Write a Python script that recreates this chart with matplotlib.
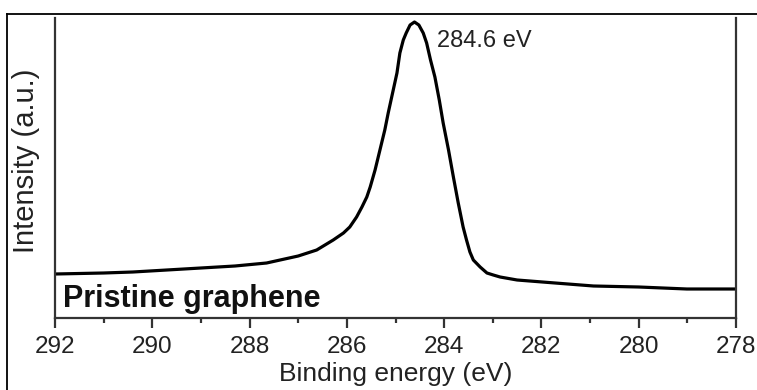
import matplotlib
matplotlib.use("Agg")
from matplotlib import pyplot as plt
from matplotlib.lines import Line2D
from matplotlib.ticker import MultipleLocator

# XPS C1s spectrum (intensity in arbitrary units)
energy = [292.0, 291.0, 290.4, 289.0, 288.3, 287.65, 287.0, 286.62, 286.28,
          286.07, 285.94, 285.8, 285.69, 285.59, 285.52, 285.42, 285.32,
          285.22, 285.15, 285.06, 284.97, 284.91, 284.84, 284.78, 284.7,
          284.61, 284.52, 284.43, 284.36, 284.28, 284.19, 284.1, 284.02,
          283.91, 283.81, 283.71, 283.61, 283.54, 283.47, 283.4, 283.26,
          283.12, 282.99, 282.85, 282.5, 281.98, 280.93, 280.0, 279.01, 278.0]
intensity = [44, 45, 46, 50, 52, 55, 62, 68, 78,
             85, 91, 101, 111, 121, 131, 148, 168,
             188, 205, 225, 245, 265, 278, 285, 293,
             296, 293, 285, 275, 258, 241, 218, 195,
             168, 141, 115, 91, 78, 66, 58, 51,
             45, 43, 41, 38, 36, 32, 31, 29, 29]
xticks = [292, 290, 288, 286, 284, 282, 280, 278]
peak_label = "284.6 eV"
sample_label = "Pristine graphene"

plt.rcParams['font.family'] = ['Liberation Sans', 'DejaVu Sans']
txt = '#222222'

fig = plt.figure(figsize=(7.57, 3.90), dpi=100)
ax = fig.add_axes([55/757, 1-318/390, (736-55)/757, 300/390])

ax.plot(energy, intensity, color='black', lw=2.3, solid_joinstyle='round')

ax.set_xlim(292, 278)
ax.set_ylim(0, 300)
ax.set_xticks(xticks)
ax.xaxis.set_minor_locator(MultipleLocator(1))
ax.set_yticks([])

for side in ['left', 'right', 'bottom']:
    ax.spines[side].set_linewidth(1.6)
    ax.spines[side].set_color('#333333')
ax.spines['top'].set_visible(False)

ax.tick_params(axis='x', which='major', direction='out', length=7, width=1.6,
               color='#333333', labelsize=17.5, labelcolor=txt, pad=6)
ax.tick_params(axis='x', which='minor', direction='out', length=3.5, width=1.6,
               color='#333333')

ax.set_xlabel("Binding energy (eV)", fontsize=19, color=txt)
ax.xaxis.set_label_coords((396-55)/681, -(374-318)/300, transform=ax.transAxes)
ax.xaxis.label.set_va('center')
ax.set_ylabel("Intensity (a.u.)", fontsize=21, color=txt)
ax.yaxis.set_label_coords(-(55-26)/681, (318-161)/300)
ax.yaxis.label.set_va('center')

ax.text(291.84, 11, sample_label, fontsize=22, fontweight='bold', color='#111111',
        va='baseline', ha='left')
ax.text(284.15, 271, peak_label, fontsize=17, color=txt, va='baseline', ha='left')

# outer frame lines
fig.add_artist(Line2D([7/757, 7/757], [0, 1-14/390], color='black', lw=1.3,
                      transform=fig.transFigure))
fig.add_artist(Line2D([7/757, 1], [1-14/390, 1-14/390], color='black', lw=1.3,
                      transform=fig.transFigure))

fig.savefig("out.png", dpi=100)
